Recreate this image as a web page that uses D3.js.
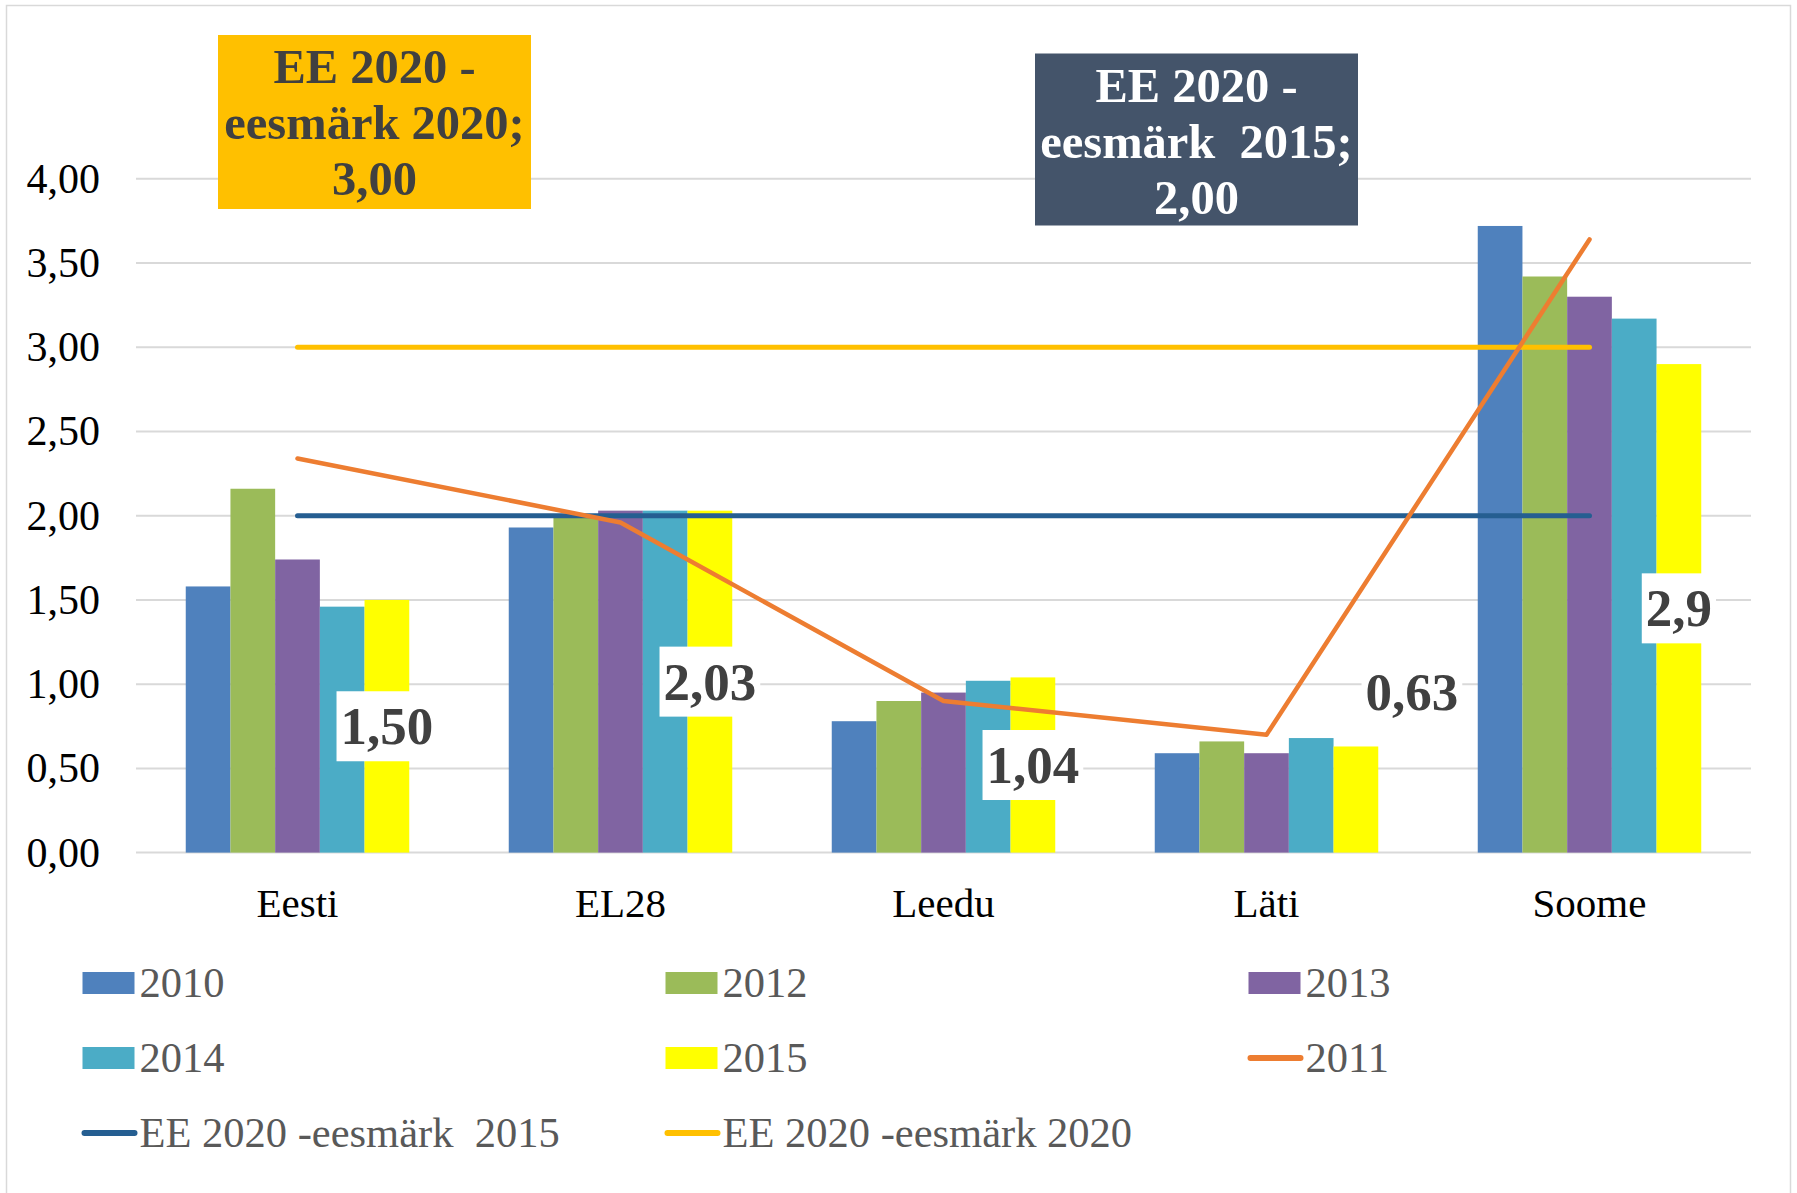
<!DOCTYPE html>
<html>
<head>
<meta charset="utf-8">
<script src="https://cdn.jsdelivr.net/npm/d3@7/dist/d3.min.js"></script>
<style>
  body { margin: 0; background: #fff; }
  text { font-family: "Liberation Serif", "Times New Roman", serif; }
</style>
</head>
<body>
<div class="chart"></div>
<script>
// data
var categories = ["Eesti", "EL28", "Leedu", "Läti", "Soome"];
var v2010 = [1.58, 1.93, 0.78, 0.59, 3.72];
var v2012 = [2.16, 2.00, 0.90, 0.66, 3.42];
var v2013 = [1.74, 2.03, 0.95, 0.59, 3.30];
var v2014 = [1.46, 2.03, 1.02, 0.68, 3.17];
var v2015 = [1.50, 2.03, 1.04, 0.63, 2.90];
var v2011 = [2.34, 1.96, 0.90, 0.70, 3.64];
var goal2015 = [2, 2, 2, 2, 2];
var goal2020 = [3, 3, 3, 3, 3];
var labels2015 = ["1,50", "2,03", "1,04", "0,63", "2,9"];
var yTicks = [0, 0.5, 1, 1.5, 2, 2.5, 3, 3.5, 4];
var yTickLabels = ["0,00", "0,50", "1,00", "1,50", "2,00", "2,50", "3,00", "3,50", "4,00"];

var barSeries = [
  {name: "2010", values: v2010, color: "#4f81bd"},
  {name: "2012", values: v2012, color: "#9bbb59"},
  {name: "2013", values: v2013, color: "#8064a2"},
  {name: "2014", values: v2014, color: "#4bacc6"},
  {name: "2015", values: v2015, color: "#ffff00"}
];
var lineSeries = [
  {name: "EE 2020 -eesmärk  2015", values: goal2015, color: "#255e91", w: 5},
  {name: "EE 2020 -eesmärk 2020", values: goal2020, color: "#ffc000", w: 5},
  {name: "2011", values: v2011, color: "#ed7d31", w: 4.5}
];

var width = 1797, height = 1193;
var svg = d3.select(".chart").append("svg").attr("width", width).attr("height", height);

svg.append("rect").attr("x", 6.5).attr("y", 5.5).attr("width", 1784).attr("height", 1200)
  .attr("fill", "#fff").attr("stroke", "#d9d9d9").attr("stroke-width", 1.5);

var x = d3.scaleBand().domain(categories).range([136, 1751]);
var xs = d3.scaleBand().domain(barSeries.map(function(d){ return d.name; }))
  .range([0, x.bandwidth()]).paddingOuter(1.113);
var y = d3.scaleLinear().domain([0, 4]).range([852.6, 178.8]);

// grid
svg.append("g").selectAll("line").data(yTicks).enter().append("line")
  .attr("x1", 136).attr("x2", 1751)
  .attr("y1", function(d){ return y(d); }).attr("y2", function(d){ return y(d); })
  .attr("stroke", "#d9d9d9").attr("stroke-width", 2);

svg.append("g").selectAll("text").data(yTicks).enter().append("text")
  .attr("x", 100).attr("y", function(d){ return y(d) + 14; })
  .attr("text-anchor", "end").attr("font-size", 42).attr("fill", "#000")
  .text(function(d, i){ return yTickLabels[i]; });

svg.append("g").selectAll("text").data(categories).enter().append("text")
  .attr("x", function(d){ return x(d) + x.bandwidth() / 2; }).attr("y", 917)
  .attr("text-anchor", "middle").attr("font-size", 41).attr("fill", "#000")
  .text(function(d){ return d; });

// bars
barSeries.forEach(function(s) {
  svg.append("g").selectAll("rect").data(s.values).enter().append("rect")
    .attr("x", function(d, i){ return x(categories[i]) + xs(s.name); })
    .attr("y", function(d){ return y(d); })
    .attr("width", xs.bandwidth())
    .attr("height", function(d){ return y(0) - y(d); })
    .attr("fill", s.color);
});

// lines
var line = d3.line()
  .x(function(d, i){ return x(categories[i]) + x.bandwidth() / 2; })
  .y(function(d){ return y(d); });
lineSeries.forEach(function(s) {
  svg.append("path").datum(s.values).attr("d", line)
    .attr("fill", "none").attr("stroke", s.color).attr("stroke-width", s.w)
    .attr("stroke-linecap", "round").attr("stroke-linejoin", "round");
});

// 2015 data labels
var lab = svg.append("g");
v2015.forEach(function(v, i) {
  var cx = x(categories[i]) + xs("2015") + xs.bandwidth() / 2;
  var cy = (y(v) + y(0)) / 2;
  if (categories[i] == "Läti") { cx += 56; cy = y(v) - 54; }
  var t = lab.append("text").attr("x", cx).attr("y", cy + 18)
    .attr("text-anchor", "middle").attr("font-size", 53).attr("font-weight", "bold")
    .attr("fill", "#404040").text(labels2015[i]);
  var w = t.node().getComputedTextLength() + 8;
  lab.insert("rect", "text").attr("x", cx - w / 2).attr("y", cy - 35)
    .attr("width", w).attr("height", 70).attr("fill", "#fff");
});

// target annotation boxes
function note(x0, y0, w, h, fill, color, lines) {
  svg.append("rect").attr("x", x0).attr("y", y0).attr("width", w).attr("height", h).attr("fill", fill);
  lines.forEach(function(l, i) {
    svg.append("text").attr("x", x0 + w / 2).attr("y", y0 + 48 + i * 56)
      .attr("text-anchor", "middle").attr("font-size", 48.5).attr("font-weight", "bold")
      .attr("fill", color).style("white-space", "pre").text(l);
  });
}
note(218, 35, 313, 174, "#ffc000", "#404040", ["EE 2020 -", "eesmärk 2020;", "3,00"]);
note(1035, 53.5, 323, 172, "#44546a", "#ffffff", ["EE 2020 -", "eesmärk  2015;", "2,00"]);

// legend
var legendItems = [
  {name: "2010", color: "#4f81bd", type: "box"},
  {name: "2012", color: "#9bbb59", type: "box"},
  {name: "2013", color: "#8064a2", type: "box"},
  {name: "2014", color: "#4bacc6", type: "box"},
  {name: "2015", color: "#ffff00", type: "box"},
  {name: "2011", color: "#ed7d31", type: "line"},
  {name: "EE 2020 -eesmärk  2015", color: "#255e91", type: "line"},
  {name: "EE 2020 -eesmärk 2020", color: "#ffc000", type: "line"}
];
var lg = svg.append("g").selectAll("g").data(legendItems).enter().append("g")
  .attr("transform", function(d, i){ return "translate(" + (82.5 + (i % 3) * 583) + "," + (983 + Math.floor(i / 3) * 75) + ")"; });
lg.filter(function(d){ return d.type == "box"; }).append("rect")
  .attr("x", 0).attr("y", -11).attr("width", 52).attr("height", 22).attr("fill", function(d){ return d.color; });
lg.filter(function(d){ return d.type == "line"; }).append("line")
  .attr("x1", 2).attr("x2", 52).attr("y1", 0).attr("y2", 0)
  .attr("stroke", function(d){ return d.color; }).attr("stroke-width", 6).attr("stroke-linecap", "round");
lg.append("text").attr("x", 57).attr("y", 14).attr("font-size", 42.5).attr("fill", "#595959")
  .style("white-space", "pre").text(function(d){ return d.name; });
</script>
</body>
</html>
